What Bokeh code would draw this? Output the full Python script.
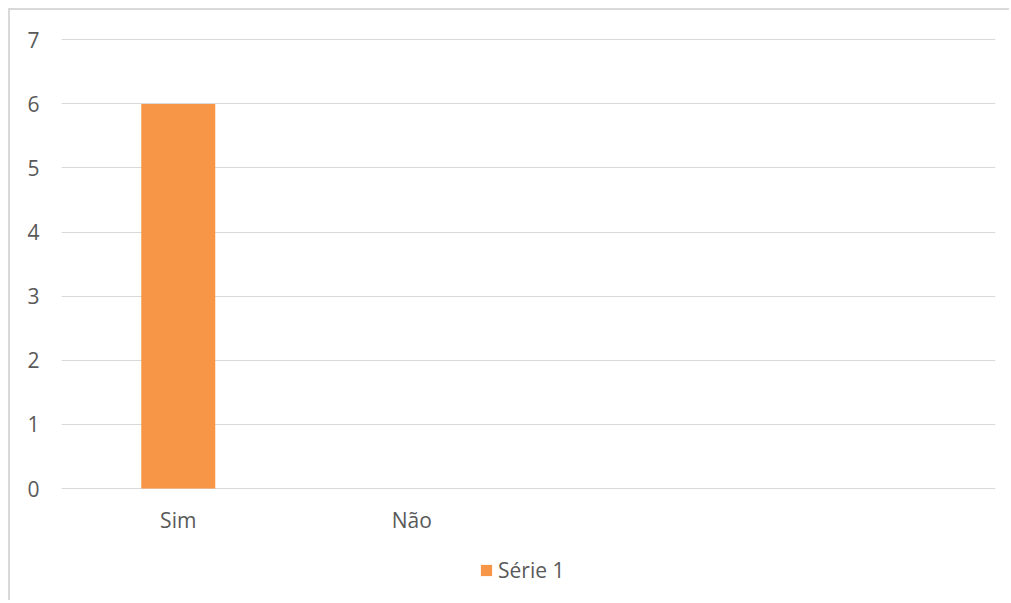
from bokeh.plotting import figure
from bokeh.models import FactorRange, Range1d, Legend, LegendItem, ColumnDataSource
from bokeh.core.properties import value
from bokeh.embed import file_html
from bokeh.resources import INLINE

categories = ["Sim", "Não", "", " "]
bar_categories = ["Sim", "Não"]
serie1 = [6, 0]
y_ticks = [0, 1, 2, 3, 4, 5, 6, 7]
series_name = "Série 1"

FONT = "Open Sans"
FS = "21px"
TXT = "#595959"
GRID = "#d9d9d9"
ORANGE = "#F79646"

p = figure(width=1001, height=592, x_range=FactorRange(*categories, range_padding=0),
           y_range=Range1d(-1.778, 7.02), output_backend="svg", toolbar_location=None,
           min_border_left=51, min_border_right=16, min_border_top=28, min_border_bottom=0)
p.styles = {"margin-left": "8px", "margin-top": "8px",
            "border-top": "2px solid #d9d9d9", "border-left": "2px solid #d9d9d9"}
p.outline_line_color = None
p.background_fill_color = "white"
p.border_fill_color = "white"

src = ColumnDataSource(dict(x=bar_categories, top=serie1))
r = p.vbar(x="x", top="top", width=0.317, source=src, fill_color=ORANGE, line_color=None)

# category labels under the baseline
lab = ColumnDataSource(dict(x=categories, y=[0] * len(categories), t=categories))
p.text(x="x", y="y", text="t", source=lab, y_offset=31, text_align="center",
       text_baseline="middle", text_font=value(FONT), text_font_size=value(FS), text_color=TXT)

p.xaxis.visible = False
p.xgrid.grid_line_color = None
p.ygrid.grid_line_color = GRID
p.ygrid.grid_line_width = 1
p.ygrid.ticker = y_ticks
p.yaxis.ticker = y_ticks
p.yaxis.axis_line_color = None
p.yaxis.major_tick_line_color = None
p.yaxis.minor_tick_line_color = None
p.yaxis.major_label_standoff = 16
p.yaxis.major_label_text_font = FONT
p.yaxis.major_label_text_font_size = FS
p.yaxis.major_label_text_color = TXT

legend = Legend(items=[LegendItem(label=series_name, renderers=[r])], location=(418, 18),
                orientation="horizontal", padding=0, spacing=0, margin=0,
                glyph_width=14, glyph_height=14,
                label_standoff=5, border_line_color=None, background_fill_alpha=0,
                label_text_font=FONT, label_text_font_size=FS, label_text_color=TXT)
p.add_layout(legend, "center")

open("out.html", "w").write(file_html(p, INLINE))
